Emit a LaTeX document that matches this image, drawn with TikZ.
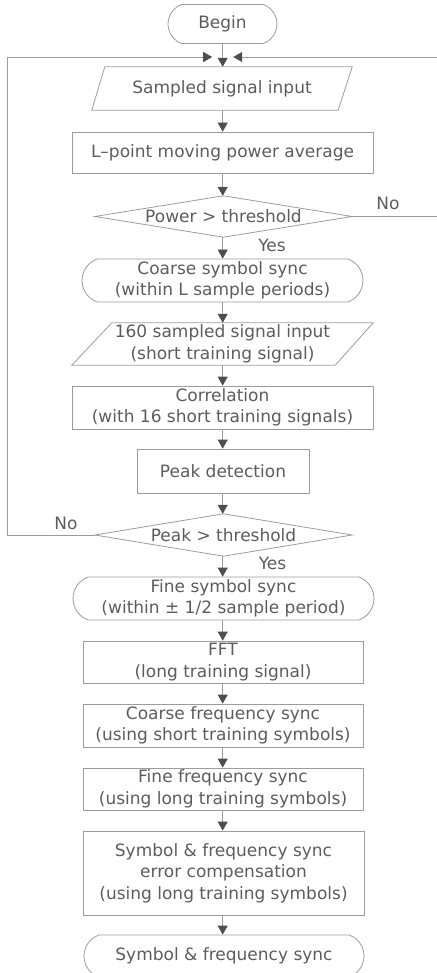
\documentclass[tikz,border=0pt]{standalone}
\usepackage{fontspec}
\setmainfont{DejaVu Sans}
\usetikzlibrary{arrows.meta,shapes.misc,calc}

\definecolor{linegray}{HTML}{9C9C9C}
\definecolor{textgray}{HTML}{5C5C5C}
\definecolor{tipgray}{HTML}{4E4E4E}

\tikzset{
  lbl/.style={text=textgray, font=\fontsize{17}{21.5}\selectfont, align=center, inner sep=0pt},
  procbox/.style={lbl, draw=linegray, line width=0.8pt, rectangle},
  framebox/.style={lbl, rectangle},
  terminal/.style={lbl, draw=linegray, line width=0.8pt, rounded rectangle,
    rounded rectangle arc length=140},
  outline/.style={draw=linegray, line width=0.8pt},
  flow/.style={draw=linegray, line width=0.8pt,
    -{Triangle[width=10pt,length=9pt,fill=tipgray,color=tipgray]}},
}

\begin{document}
\begin{tikzpicture}[x=1pt,y=-1pt]
\useasboundingbox (0,0) rectangle (436,973);

% main column
\node[terminal, minimum width=109pt, minimum height=39pt] (begin) at (222.5,24) {Begin};
\node[framebox, minimum width=260pt, minimum height=43pt] (in1) at (222,88.5) {Sampled signal input};
\node[procbox, minimum width=301pt, minimum height=41pt] (avg) at (222.5,152.5) {L–point moving power average};
\node[framebox, minimum width=257pt, minimum height=41pt] (pd) at (223.5,216.5) {Power > threshold};
\node[terminal, minimum width=281pt, minimum height=43pt] (coarse) at (222.5,280.5) {Coarse symbol sync\\(within L sample periods)};
\node[framebox, minimum width=301pt, minimum height=42pt] (in2) at (222.5,344) {160 sampled signal input\\(short training signal)};
\node[procbox, minimum width=301pt, minimum height=43pt] (corr) at (222.5,407.5) {Correlation\\(with 16 short training signals)};
\node[procbox, minimum width=172pt, minimum height=44pt] (peak) at (223,471) {Peak detection};
\node[framebox, minimum width=257pt, minimum height=42pt] (kd) at (223.5,535) {Peak > threshold};
\node[terminal, minimum width=301pt, minimum height=43pt] (fine) at (223.5,598.5) {Fine symbol sync\\(within ± 1/2 sample period)};
\node[procbox, minimum width=280pt, minimum height=42pt] (fft) at (223,662) {FFT\\(long training signal)};
\node[procbox, minimum width=280pt, minimum height=43pt] (cfreq) at (223,725.5) {Coarse frequency sync\\(using short training symbols)};
\node[procbox, minimum width=280pt, minimum height=42pt] (ffreq) at (223,789) {Fine frequency sync\\(using long training symbols)};
\node[procbox, minimum width=281pt, minimum height=84pt] (comp) at (223.5,873) {Symbol \& frequency sync\\error compensation\\(using long training symbols)};
\node[terminal, minimum width=280pt, minimum height=42pt] (end) at (224,956) {Symbol \& frequency sync};

% input parallelograms
\draw[outline] ([xshift=13pt]in1.north west) -- (in1.north east)
  -- ([xshift=-14pt]in1.south east) -- (in1.south west) -- cycle;
\draw[outline] ([xshift=40pt]in2.north west) -- (in2.north east)
  -- ([xshift=-38pt]in2.south east) -- (in2.south west) -- cycle;

% decision diamonds
\draw[outline] (pd.west) -- (pd.north) -- (pd.east) -- (pd.south) -- cycle;
\draw[outline] (kd.west) -- (kd.north) -- (kd.east) -- (kd.south) -- cycle;

% branch labels
\node[lbl] (no1) at (388,203.5) {No};
\node[lbl] (yes1) at (272,245) {Yes};
\node[lbl] (no2) at (66,523) {No};
\node[lbl] (yes2) at (272.5,563) {Yes};

% loop junction and corners
\coordinate (j) at (222.7,57);
\coordinate (lc) at (7,57);
\coordinate (rc) at (440,57);

% forward flow
\draw[flow] (begin.south -| j) -- (in1.north -| j);
\draw[flow] (in1.south -| j) -- (avg.north -| j);
\draw[flow] (avg.south -| j) -- (pd.north -| j);
\draw[flow] (pd.south -| j) -- (coarse.north -| j);
\draw[flow] (coarse.south -| j) -- (in2.north -| j);
\draw[flow] (in2.south -| j) -- (corr.north -| j);
\draw[flow] (corr.south -| j) -- (peak.north -| j);
\draw[flow] (peak.south -| j) -- (kd.north -| j);
\draw[flow] (kd.south -| j) -- (fine.north -| j);
\draw[flow] (fine.south -| j) -- (fft.north -| j);
\draw[flow] (fft.south -| j) -- (cfreq.north -| j);
\draw[flow] (cfreq.south -| j) -- (ffreq.north -| j);
\draw[flow] (ffreq.south -| j) -- (comp.north -| j);
\draw[flow] (comp.south -| j) -- (end.north -| j);

% feedback loops
\draw[flow, shorten >=10.5pt] (kd.west) -| (lc) -- (j);
\draw[flow, shorten >=10.5pt] (pd.east) -| (rc) -- (j);
\end{tikzpicture}
\end{document}
